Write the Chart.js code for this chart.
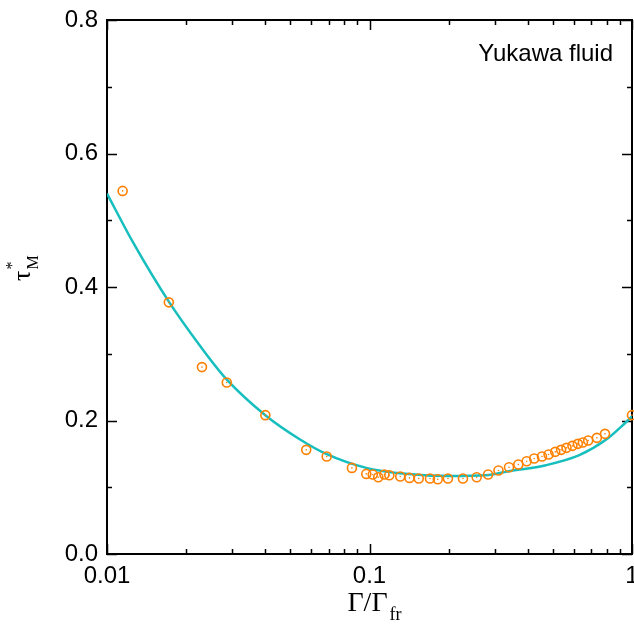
<!DOCTYPE html>
<html>
<head>
<meta charset="utf-8">
<script src="https://cdn.jsdelivr.net/npm/chart.js@4/dist/chart.umd.min.js"></script>
<style>
  html, body { margin: 0; padding: 0; background: #fff; }
  canvas { display: block; }
</style>
</head>
<body>
<canvas id="myChart" width="634" height="629"></canvas>
<script>
// fitted curve (cyan line)
var xFit = [0.01, 0.0126, 0.0172, 0.0226, 0.0285, 0.0401, 0.0542, 0.0684, 0.0972, 0.130, 0.201, 0.278, 0.340, 0.47, 0.63, 0.795, 0.946, 1.0];
var yFit = [0.540, 0.466, 0.378, 0.312, 0.262, 0.208, 0.172, 0.150, 0.129, 0.121, 0.117, 0.118, 0.124, 0.133, 0.148, 0.171, 0.197, 0.206];

// simulation points (orange circles)
var xData = [0.01147, 0.0172, 0.0230, 0.0286, 0.0401, 0.0574, 0.0687, 0.0857, 0.0972, 0.1029, 0.108, 0.114, 0.119, 0.131, 0.142, 0.154, 0.170, 0.182, 0.199, 0.227, 0.256, 0.283, 0.310, 0.340, 0.369, 0.397, 0.424, 0.454, 0.481, 0.510, 0.537, 0.563, 0.593, 0.622, 0.650, 0.681, 0.735, 0.789, 1.0];
var yData = [0.544, 0.377, 0.280, 0.257, 0.208, 0.156, 0.146, 0.129, 0.120, 0.119, 0.115, 0.119, 0.118, 0.116, 0.114, 0.113, 0.113, 0.112, 0.113, 0.113, 0.115, 0.119, 0.125, 0.130, 0.134, 0.139, 0.143, 0.146, 0.149, 0.153, 0.156, 0.159, 0.162, 0.165, 0.167, 0.170, 0.174, 0.180, 0.208];

var xDecades = [0.01, 0.1, 1];
var yTicks = [0, 0.1, 0.2, 0.3, 0.4, 0.5, 0.6, 0.7, 0.8];
var yLabels = ['0.0', '', '0.2', '', '0.4', '', '0.6', '', '0.8'];

var sans = "'Liberation Sans', Arial, sans-serif";
var serif = "'Liberation Serif', 'Times New Roman', serif";

function pts(xs, ys) {
    return xs.map(function (x, i) { return { x: x, y: ys[i] }; });
}

// log ticks 1..9 per decade
var xTickValues = [];
for (var d = 0; d < xDecades.length - 1; d++) {
    for (var m = 1; m < 10; m++) xTickValues.push(+(xDecades[d] * m).toPrecision(3));
}
xTickValues.push(xDecades[xDecades.length - 1]);

function isDecade(v) {
    return xDecades.some(function (d) { return Math.abs(v - d) < d * 1e-6; });
}

// frame, inward ticks and text
var decor = {
    id: 'decor',
    beforeDatasetsDraw: function (chart) {
        var ctx = chart.ctx, a = chart.chartArea;
        var xs = chart.scales.x, ys = chart.scales.y;
        ctx.save();
        ctx.strokeStyle = '#000';
        ctx.lineWidth = 1.5;
        ctx.beginPath();
        xTickValues.forEach(function (v) {
            var px = Math.round(xs.getPixelForValue(v)) + 0.5;
            var len = isDecade(v) ? 10 : 5;
            ctx.moveTo(px, a.bottom); ctx.lineTo(px, a.bottom - len);
            ctx.moveTo(px, a.top); ctx.lineTo(px, a.top + len);
        });
        yTicks.forEach(function (v, i) {
            var py = Math.round(ys.getPixelForValue(v)) + 0.5;
            var len = yLabels[i] ? 10 : 5;
            ctx.moveTo(a.left, py); ctx.lineTo(a.left + len, py);
            ctx.moveTo(a.right, py); ctx.lineTo(a.right - len, py);
        });
        ctx.stroke();
        ctx.lineWidth = 2;
        ctx.strokeRect(a.left, a.top, a.right - a.left, a.bottom - a.top);
        ctx.restore();
    },
    afterDraw: function (chart) {
        var ctx = chart.ctx, a = chart.chartArea;
        ctx.save();
        ctx.fillStyle = '#000';
        ctx.textBaseline = 'alphabetic';

        ctx.font = '24px ' + sans;
        ctx.textAlign = 'right';
        ctx.fillText('Yukawa fluid', 613, 61);

        // x title: Γ/Γ_fr
        ctx.textAlign = 'left';
        ctx.font = '28px ' + serif;
        var main = 'Γ/Γ';
        var w = ctx.measureText(main).width;
        ctx.font = '18px ' + serif;
        var ws = ctx.measureText('fr').width;
        var x0 = (a.left + a.right) / 2 - (w + ws) / 2 + 4;
        ctx.font = '28px ' + serif;
        ctx.fillText(main, x0, 611);
        ctx.font = '18px ' + serif;
        ctx.fillText('fr', x0 + w + 2, 620);

        // y title: τ*_M (rotated)
        ctx.translate(30, 281);
        ctx.rotate(-Math.PI / 2);
        ctx.font = '26px ' + serif;
        ctx.fillText('τ', 0, 0);
        var wt = ctx.measureText('τ').width;
        ctx.font = '16px ' + serif;
        ctx.fillText('*', wt + 1, -13);
        ctx.fillText('M', wt + 1, 8);
        ctx.restore();
    }
};

var ctx = document.getElementById('myChart');
new Chart(ctx, {
    type: 'scatter',
    data: {
        datasets: [{
            type: 'line',
            label: 'fit',
            data: pts(xFit, yFit),
            borderColor: '#17BEBE',
            borderWidth: 2.5,
            pointRadius: 0,
            fill: false,
            cubicInterpolationMode: 'monotone',
            order: 3
        }, {
            label: 'MD',
            data: pts(xData, yData),
            pointStyle: 'circle',
            pointRadius: 4.5,
            borderColor: '#FF8000',
            backgroundColor: 'rgba(255,255,255,0)',
            borderWidth: 1.6,
            clip: false,
            order: 2
        }, {
            label: 'MD centre',
            data: pts(xData, yData),
            pointRadius: 0.8,
            borderWidth: 0,
            backgroundColor: '#FF8000',
            clip: false,
            order: 1
        }]
    },
    plugins: [decor],
    options: {
        responsive: false,
        animation: false,
        events: [],
        layout: { autoPadding: false, padding: { left: 0, right: 2, top: 20, bottom: 0 } },
        plugins: { legend: { display: false }, tooltip: { enabled: false } },
        scales: {
            x: {
                type: 'logarithmic',
                min: 0.01,
                max: 1,
                grid: { display: false, drawTicks: false },
                border: { display: false },
                afterBuildTicks: function (scale) {
                    scale.ticks = xTickValues.map(function (v) { return { value: v }; });
                },
                ticks: {
                    autoSkip: false,
                    maxRotation: 0,
                    padding: 8,
                    color: '#000',
                    font: { family: sans, size: 24 },
                    callback: function (v) { return isDecade(v) ? String(v) : ''; }
                },
                afterFit: function (scale) {
                    scale.height = 75;
                    scale.paddingLeft = 0;
                    scale.paddingRight = 0;
                }
            },
            y: {
                type: 'linear',
                min: 0,
                max: 0.8,
                grid: { display: false, drawTicks: false },
                border: { display: false },
                afterBuildTicks: function (scale) {
                    scale.ticks = yTicks.map(function (v) { return { value: v }; });
                },
                ticks: {
                    autoSkip: false,
                    padding: 9,
                    color: '#000',
                    font: { family: sans, size: 24 },
                    callback: function (v, i) { return yLabels[i]; }
                },
                afterFit: function (scale) {
                    scale.width = 107;
                    scale.paddingTop = 0;
                    scale.paddingBottom = 0;
                }
            }
        }
    }
});
</script>
</body>
</html>
